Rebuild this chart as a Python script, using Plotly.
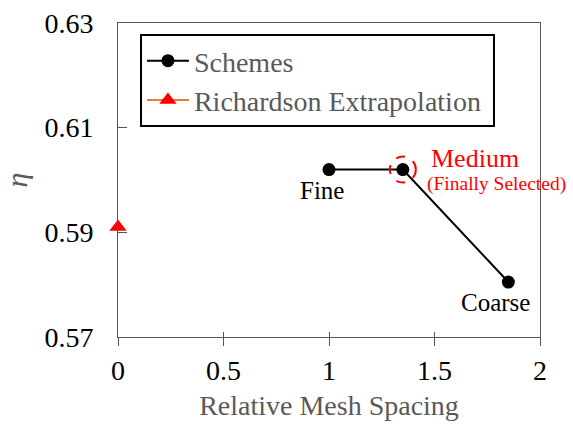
import plotly.graph_objects as go

scheme_names = ["Fine", "Medium", "Coarse"]
scheme_x = [1.0, 1.35, 1.85]
scheme_eta = [0.602, 0.602, 0.5805]
rich_x = [0.0]
rich_eta = [0.591]
x_ticks = [0, 0.5, 1, 1.5, 2]
x_tick_text = ["0", "0.5", "1", "1.5", "2"]
y_ticks = [0.57, 0.59, 0.61, 0.63]
y_tick_text = ["0.57", "0.59", "0.61", "0.63"]

serif = "Liberation Serif, Times New Roman, serif"
gray = "#595959"

fig = go.Figure()
fig.add_trace(go.Scatter(x=scheme_x, y=scheme_eta, mode="lines+markers", name="Schemes\u00a0\u00a0",
                         line=dict(color="black", width=2),
                         marker=dict(color="black", size=13, symbol="circle")))
fig.add_trace(go.Scatter(x=rich_x, y=rich_eta, mode="lines+markers", name="Richardson Extrapolation\u00a0",
                         line=dict(color="#ED7D31", width=2),
                         marker=dict(color="red", size=15, symbol="triangle-up"), cliponaxis=False))
# invisible trace for secondary x-axis (cross ticks)
fig.add_trace(go.Scatter(x=[x_ticks[0]], y=[y_ticks[0]], xaxis="x2", mode="markers",
                         marker=dict(opacity=0), showlegend=False, hoverinfo="skip"))

# labels
fig.add_annotation(x=scheme_x[0], y=scheme_eta[0], text=scheme_names[0], showarrow=False,
                   xshift=-7, yshift=-21, font=dict(family=serif, size=25, color="black"))
fig.add_annotation(x=scheme_x[2], y=scheme_eta[2], text=scheme_names[2], showarrow=False,
                   xshift=-13, yshift=-20, font=dict(family=serif, size=25, color="black"))
fig.add_annotation(x=scheme_x[1], y=scheme_eta[1], text=scheme_names[1], showarrow=False,
                   xanchor="left", xshift=26, yshift=11, font=dict(family=serif, size=26, color="red"))
fig.add_annotation(x=scheme_x[1], y=scheme_eta[1], text="(Finally Selected)", showarrow=False,
                   xanchor="left", xshift=22, yshift=-14, font=dict(family=serif, size=19.5, color="red"))
fig.add_shape(type="circle", xref="x", yref="y", xsizemode="pixel", ysizemode="pixel",
              xanchor=scheme_x[1], yanchor=scheme_eta[1], x0=-13, x1=13, y0=-13, y1=13,
              line=dict(color="red", width=2, dash="dash"))

fig.update_layout(
    width=573, height=424,
    margin=dict(l=118, r=33, t=23, b=87, autoexpand=False),
    paper_bgcolor="white", plot_bgcolor="white",
    font=dict(family=serif),
    showlegend=True,
    legend=dict(x=0.052, y=0.965, xanchor="left", yanchor="top",
                bordercolor="black", borderwidth=2, bgcolor="white",
                font=dict(family=serif, size=28, color=gray),
                tracegroupgap=0, itemwidth=42),
    xaxis=dict(range=[0, 2], tickvals=x_ticks, ticktext=x_tick_text, automargin=False,
               ticks="outside", ticklen=8, tickcolor="#555", tickwidth=1,
               showline=True, linecolor="#555", linewidth=1, mirror=True,
               showgrid=False, zeroline=False,
               tickfont=dict(family=serif, size=28, color="black"),
               title=dict(text="Relative Mesh Spacing", font=dict(family=serif, size=28, color=gray), standoff=10)),
    xaxis2=dict(range=[0, 2], overlaying="x", side="bottom", tickvals=x_ticks,
                ticks="inside", ticklen=5, tickcolor="#555", showticklabels=False,
                showgrid=False, zeroline=False, showline=False),
    yaxis=dict(range=[0.57, 0.63], tickvals=y_ticks, ticktext=y_tick_text, automargin=False,
               ticks="inside", ticklen=9, tickcolor="#555",
               showline=True, linecolor="#555", linewidth=1, mirror=True,
               showgrid=False, zeroline=False, ticklabelstandoff=18,
               tickfont=dict(family=serif, size=28, color="black"),
               title=dict(text="<i>η</i>", font=dict(family=serif, size=30, color=gray), standoff=10)),
)

fig.write_html("out.html")
